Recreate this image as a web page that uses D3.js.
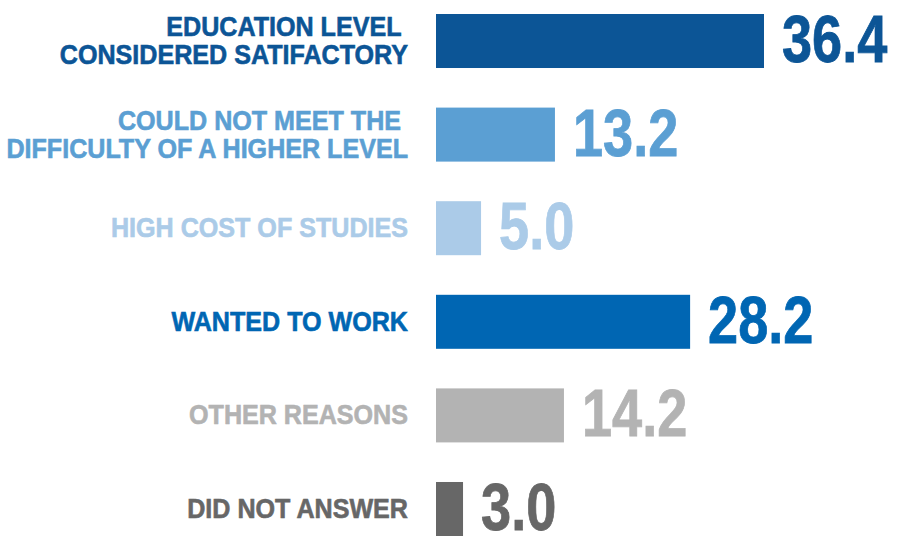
<!DOCTYPE html>
<html>
  <head>
    <meta charset="utf-8" />
    <script src="https://cdn.jsdelivr.net/npm/d3@7"></script>
    <style>
      body { margin: 0; background: #ffffff; }
      text { font-family: "Liberation Sans", Arial, sans-serif; font-weight: bold; white-space: pre; }
    </style>
  </head>
  <body>
    <div id="chart"></div>
    <script type="text/javascript">
      var w = 903, h = 539;

      var categories = [
        ["EDUCATION LEVEL ", "CONSIDERED SATIFACTORY"],
        ["COULD NOT MEET THE ", "DIFFICULTY OF A HIGHER LEVEL"],
        ["HIGH COST OF STUDIES"],
        ["WANTED TO WORK"],
        ["OTHER REASONS"],
        ["DID NOT ANSWER"]
      ];
      var values = [36.4, 13.2, 5.0, 28.2, 14.2, 3.0];
      var colors = ["#0c5596", "#5b9fd3", "#abcbe8", "#0066b3", "#b3b3b3", "#676767"];

      var rows = values.map(function(v, i) {
        return { i: i, value: v, lines: categories[i], color: colors[i] };
      });

      var svg = d3.select("#chart")
        .append("svg")
        .attr("width", w)
        .attr("height", h);

      var x = d3.scaleLinear()
        .domain([0, 36.4])
        .range([436, 764]);

      var y = d3.scaleBand()
        .domain(d3.range(values.length))
        .range([14, 536])
        .paddingInner(0.423)
        .paddingOuter(0);

      var fmt = d3.format(".1f");

      var g = svg.selectAll("g.row").data(rows)
        .enter()
        .append("g")
        .attr("class", "row");

      g.append("rect")
        .attr("x", x(0))
        .attr("y", function(d) { return y(d.i); })
        .attr("width", function(d) { return x(d.value) - x(0); })
        .attr("height", y.bandwidth())
        .attr("fill", function(d) { return d.color; });

      // value labels, condensed
      g.append("text")
        .attr("transform", function(d) {
          return "translate(" + (x(d.value) + 18) + "," + (y(d.i) + 48) + ") scale(0.82,1)";
        })
        .attr("font-size", 66)
        .attr("fill", function(d) { return d.color; })
        .attr("stroke", function(d) { return d.color; })
        .attr("stroke-width", 0.8)
        .text(function(d) { return fmt(d.value); });

      // category labels, right aligned
      var lineH = 28;
      g.each(function(d) {
        var n = d.lines.length;
        var cy = y(d.i) + y.bandwidth() / 2;
        var base = cy + 9 - (n - 1) * lineH / 2;
        d3.select(this).selectAll("text.cat").data(d.lines)
          .enter()
          .append("text")
          .attr("class", "cat")
          .attr("transform", function(t, k) {
            return "translate(408," + (base + k * lineH) + ") scale(0.93,1)";
          })
          .attr("text-anchor", "end")
          .attr("font-size", 27)
          .attr("fill", d.color)
          .attr("stroke", d.color)
          .attr("stroke-width", 0.6)
          .text(function(t) { return t; });
      });
    </script>
  </body>
</html>
